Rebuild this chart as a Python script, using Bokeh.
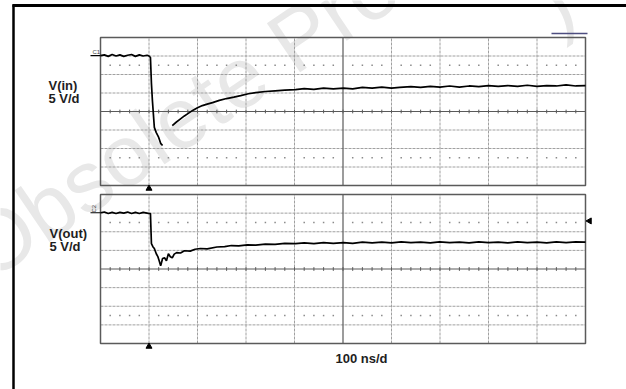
import math
import numpy as np
from bokeh.plotting import figure
from bokeh.models import Range1d, Label
from bokeh.core.properties import value
from bokeh.embed import file_html
from bokeh.resources import INLINE

# ---------------- data (time in ns, voltage in V) ----------------
t_in = [0, 8, 16, 24, 32, 40, 48, 56, 64, 72, 80, 88, 96, 100,
        103, 105, 107, 111, 115, 120, 124, 128,
        140,
        148, 156, 165, 173, 181, 190, 200, 210, 220, 231, 245, 260, 275, 289, 305, 320, 340, 360, 380,
        402, 420, 440, 460, 480, 501, 520, 540, 560, 580, 600, 617, 640, 660, 680, 700, 720, 740,
        760, 780, 800, 820, 840, 860, 880, 900, 920, 940, 960, 980, 1000]
v_in = [15.1, 15.3, 14.9, 15.4, 15.0, 15.3, 14.9, 15.2, 15.4, 14.9, 15.3, 15.0, 15.2, 15.0,
        14.6, 7.6, 3.0, -4.3, -5.7, -7.0, -8.6, -9.2,
        float("nan"),
        -3.8, -2.9, -2.0, -1.2, -0.5, 0.3, 1.0, 1.6, 2.0, 2.4, 3.0, 3.5, 3.9, 4.3, 4.8, 5.1, 5.4, 5.6, 5.8,
        5.9, 6.2, 6.0, 6.3, 6.1, 6.3, 6.1, 6.5, 6.3, 6.6, 6.3, 6.5, 6.7, 6.5, 6.8, 6.6, 6.9, 6.6,
        6.9, 6.7, 7.0, 6.8, 7.0, 6.8, 7.1, 6.8, 7.0, 6.9, 7.2, 6.9, 7.0]

t_out = [0, 8, 16, 24, 32, 40, 48, 56, 64, 72, 80, 88, 96, 100,
         103, 105, 108, 111, 115, 118, 121, 124, 126, 128, 132, 136, 140, 144, 148, 152, 157,
         165, 173, 185, 195, 206, 220, 240, 256, 270, 285, 303, 320, 340, 360, 380, 402, 420,
         440, 460, 480, 501, 520, 540, 560, 580, 600, 620, 640, 660, 680, 699, 720, 740, 760,
         780, 800, 820, 840, 860, 880, 900, 920, 940, 960, 980, 1000]
v_out = [15.1, 15.3, 14.9, 15.2, 14.9, 15.2, 15.0, 15.3, 14.9, 15.2, 14.9, 15.2, 15.0, 14.9,
         14.9, 6.8, 6.0, 5.5, 4.1, 3.4, 2.2, 0.9, 1.8, 2.8, 3.0, 2.2, 4.1, 3.3, 3.0, 4.0, 4.4,
         4.3, 4.9, 4.8, 5.3, 5.5, 5.4, 5.9, 6.0, 6.3, 6.2, 6.5, 6.4, 6.7, 6.6, 6.9, 6.8, 7.0,
         6.8, 7.1, 6.9, 7.1, 6.9, 7.2, 7.0, 7.2, 7.0, 7.3, 7.1, 7.2, 7.0, 7.3, 7.1, 7.2, 7.0,
         7.3, 7.1, 7.2, 7.0, 7.3, 7.1, 7.2, 7.0, 7.3, 7.1, 7.3, 7.2]

ch_labels = ["V(in)", "V(out)"]
scale_label = "5 V/d"
time_label = "100 ns/d"
watermark = "Obsolete Product(s)"

TIME_DIV = 100.0   # ns per division
VOLT_DIV = 5.0     # V per division
NX, NY = 10, 8
TRIG_T = 100.0     # trigger position (ns)
TRIG_LEVEL_OUT = 12.9

# ---------------- layout (canvas pixels) ----------------
W, H = 626, 389
PX_L, PX_R = 100, 585
UP_T, UP_B = 37, 185
LO_T, LO_B = 194, 343
UP_C = (UP_T + UP_B) / 2
LO_C = (LO_T + LO_B) / 2

T_END = NX * TIME_DIV
V_HALF = NY / 2 * VOLT_DIV
tpp = T_END / (PX_R - PX_L)


def yrange(top_px, bot_px):
    vpp = 2 * V_HALF / (bot_px - top_px)
    return Range1d(start=-V_HALF - (H - bot_px) * vpp, end=V_HALF + top_px * vpp), vpp


yr_in, vpp_in = yrange(UP_T, UP_B)
yr_out, vpp_out = yrange(LO_T, LO_B)


def tx(px):
    return (px - PX_L) * tpp


def vy_in(py):
    return (UP_C - py) * vpp_in


def vy_out(py):
    return (LO_C - py) * vpp_out


p = figure(width=W, height=H, x_range=Range1d(tx(0), tx(W)),
           y_range=yr_in, output_backend="svg", toolbar_location=None,
           x_axis_type=None, y_axis_type=None, min_border=0)
p.extra_y_ranges = {"out": yr_out}
p.grid.visible = False
p.outline_line_color = None
p.background_fill_color = "white"

# watermark (underneath)
wm = dict(angle=0.595, text_font=value("Liberation Sans"), text_font_size="86px",
          text_color="#e8e8e8")
p.text(x=[tx(-1)], y=[vy_in(297)], text=[watermark], **wm)
p.text(x=[tx(566)], y=[vy_in(48)], text=[")"], **wm)

grid_col = "#a0a0a0"
dark = "#5a5a5a"
sub = np.arange(TIME_DIV / 5, T_END, TIME_DIV / 5)
sub_nodiv = [s for s in sub if abs(s / TIME_DIV - round(s / TIME_DIV)) > 1e-6]


def panel(rn):
    kw = {} if rn is None else {"y_range_name": rn}
    hv = [k * VOLT_DIV for k in range(-NY // 2 + 1, NY // 2) if k != 0]
    p.segment(x0=[0] * len(hv), x1=[T_END] * len(hv), y0=hv, y1=hv,
              line_color=grid_col, line_width=1, line_dash="3 1", **kw)
    vt = [k * TIME_DIV for k in range(1, NX) if k != NX // 2]
    p.segment(x0=vt, x1=vt, y0=[-V_HALF] * len(vt), y1=[V_HALF] * len(vt),
              line_color=grid_col, line_width=1, line_dash="3 1", **kw)
    # dotted rows
    for lv in (2.5 * VOLT_DIV, -2.5 * VOLT_DIV):
        p.scatter(x=sub_nodiv, y=[lv] * len(sub_nodiv), marker="square", size=1.5,
                  line_color=None, fill_color="#8a8a8a", **kw)
    # center lines
    p.segment(x0=[0, T_END / 2], x1=[T_END, T_END / 2], y0=[0, -V_HALF], y1=[0, V_HALF],
              line_color=dark, line_width=1.2, **kw)
    p.segment(x0=list(sub), x1=list(sub), y0=[-0.5] * len(sub), y1=[0.5] * len(sub),
              line_color=dark, line_width=1, **kw)
    # border
    p.quad(left=[0], right=[T_END], bottom=[-V_HALF], top=[V_HALF], fill_color=None,
           line_color=dark, line_width=1.5, **kw)


panel(None)
panel("out")

# traces
p.line(t_in, v_in, line_color="black", line_width=1.7)
p.line(t_out, v_out, line_color="black", line_width=1.7, y_range_name="out")

# channel markers
p.segment(x0=[tx(90)], x1=[0], y0=[v_in[0]], y1=[v_in[0]], line_color="black", line_width=1.2)
p.segment(x0=[tx(90)], x1=[0], y0=[v_out[0]], y1=[v_out[0]], line_color="black",
          line_width=1.2, y_range_name="out")
p.text(x=[tx(92)], y=[vy_in(54)], text=["C1"], text_font=value("Liberation Sans"),
       text_font_size="6px", text_color="#444444")
p.text(x=[tx(96)], y=[vy_out(212)], text=["C2"], text_font=value("Liberation Sans"),
       text_font_size="6px", text_color="#444444", angle=math.pi / 2,
       y_range_name="out")

# trigger markers
p.scatter(x=[TRIG_T], y=[vy_in(188)], marker="triangle", size=6, color="black")
p.scatter(x=[TRIG_T], y=[vy_out(346)], marker="triangle", size=6, color="black",
          y_range_name="out")
p.scatter(x=[tx(589)], y=[TRIG_LEVEL_OUT], marker="triangle", angle=math.pi / 2,
          size=6, color="black", y_range_name="out")
# short bar top right
p.segment(x0=[tx(551)], x1=[tx(587)], y0=[vy_in(33)], y1=[vy_in(33)],
          line_color="#4e4e80", line_width=1.5)

# outer page lines
p.segment(x0=[tx(13)], x1=[tx(13)], y0=[yr_in.start], y1=[vy_in(4)], line_color="black",
          line_width=2.5)
p.segment(x0=[tx(12)], x1=[tx(W + 5)], y0=[vy_in(5)], y1=[vy_in(5)], line_color="black",
          line_width=2.8)

# labels
lab = dict(text_font="Liberation Sans", text_font_style="bold", text_font_size="13px",
           text_color="#1e1e1e")
p.add_layout(Label(x=tx(48), y=vy_in(92), text=ch_labels[0], **lab))
p.add_layout(Label(x=tx(48), y=vy_in(105), text=scale_label, **lab))
p.add_layout(Label(x=tx(49), y=vy_out(240), text=ch_labels[1], y_range_name="out", **lab))
p.add_layout(Label(x=tx(49), y=vy_out(253), text=scale_label, y_range_name="out", **lab))
p.add_layout(Label(x=tx(335), y=vy_out(365), text=time_label, y_range_name="out", **lab))

open("out.html", "w").write(file_html(p, INLINE))
